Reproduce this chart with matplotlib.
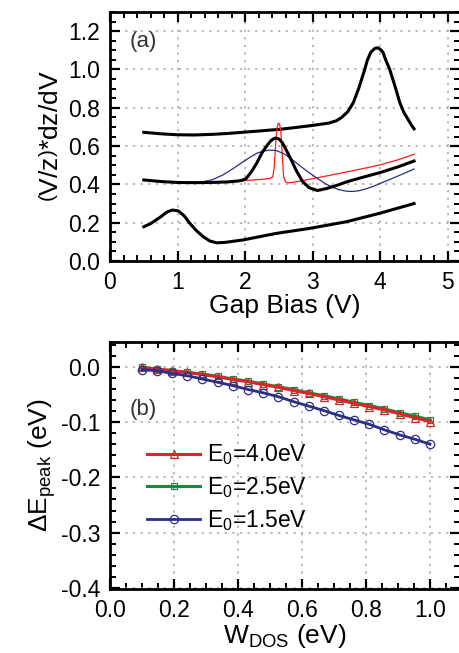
import matplotlib
matplotlib.use("Agg")
import matplotlib.pyplot as plt
from matplotlib.ticker import MultipleLocator

plt.rcParams['font.family'] = ['Liberation Sans', 'DejaVu Sans']
plt.rcParams['mathtext.fontset'] = 'custom'
plt.rcParams['mathtext.rm'] = 'Liberation Sans'
plt.rcParams['mathtext.it'] = 'Liberation Sans'
plt.rcParams['mathtext.bf'] = 'Liberation Sans'

# ---------------- panel (a) data ----------------
top_black_x = [0.5, 0.75, 1.0, 1.25, 1.5, 1.75, 2.0, 2.25, 2.5, 2.75, 3.0, 3.24, 3.35, 3.43, 3.52, 3.60,
               3.68, 3.77, 3.81, 3.86, 3.92, 3.96, 4.0, 4.04, 4.08, 4.14, 4.22, 4.29, 4.35, 4.41, 4.46, 4.5]
top_black_y = [0.672, 0.664, 0.659, 0.658, 0.661, 0.666, 0.673, 0.680, 0.687, 0.697, 0.708, 0.720, 0.732,
               0.750, 0.780, 0.826, 0.900, 1.000, 1.050, 1.090, 1.110, 1.113, 1.105, 1.090, 1.050, 1.000,
               0.910, 0.826, 0.775, 0.740, 0.710, 0.690]

mid_black_x = [0.5, 0.75, 1.0, 1.25, 1.5, 1.75, 1.9, 1.97, 2.02, 2.1, 2.17, 2.25, 2.31, 2.38, 2.43, 2.46,
               2.5, 2.55, 2.6, 2.68, 2.76, 2.85, 2.95, 3.07, 3.2, 3.35, 3.51, 3.75, 4.0, 4.25, 4.5]
mid_black_y = [0.423, 0.415, 0.410, 0.409, 0.410, 0.413, 0.418, 0.423, 0.432, 0.47, 0.51, 0.565, 0.596,
               0.628, 0.640, 0.642, 0.637, 0.618, 0.585, 0.530, 0.470, 0.415, 0.382, 0.368, 0.378, 0.394,
               0.414, 0.438, 0.462, 0.490, 0.522]

red_x = [0.5, 0.75, 1.0, 1.25, 1.5, 1.75, 2.0, 2.2, 2.36, 2.41, 2.43, 2.45, 2.47, 2.49, 2.51, 2.53, 2.55,
         2.57, 2.6, 2.65, 2.8, 3.0, 3.25, 3.5, 3.75, 4.0, 4.25, 4.5]
red_y = [0.423, 0.415, 0.410, 0.409, 0.410, 0.414, 0.420, 0.425, 0.430, 0.44, 0.49, 0.60, 0.69, 0.72, 0.715,
         0.67, 0.55, 0.44, 0.412, 0.408, 0.416, 0.430, 0.447, 0.465, 0.483, 0.502, 0.527, 0.557]

blue_x = [0.5, 0.75, 1.0, 1.2, 1.38, 1.52, 1.67, 1.82, 1.97, 2.07, 2.17, 2.27, 2.36, 2.46, 2.58, 2.7,
          2.83, 2.92, 3.0, 3.1, 3.19, 3.3, 3.4, 3.51, 3.6, 3.7, 3.8, 3.9, 4.0, 4.25, 4.5]
blue_y = [0.423, 0.415, 0.410, 0.410, 0.414, 0.425, 0.449, 0.482, 0.518, 0.541, 0.562, 0.574, 0.579, 0.577,
          0.559, 0.528, 0.492, 0.468, 0.448, 0.424, 0.403, 0.384, 0.371, 0.364, 0.363, 0.368, 0.378, 0.390,
          0.405, 0.442, 0.480]

bot_black_x = [0.5, 0.6, 0.74, 0.84, 0.92, 1.01, 1.1, 1.18, 1.28, 1.38, 1.48, 1.58, 1.7, 1.97, 2.46, 2.95,
               3.5, 4.0, 4.5]
bot_black_y = [0.179, 0.195, 0.228, 0.255, 0.266, 0.262, 0.235, 0.197, 0.158, 0.127, 0.104, 0.095, 0.097,
               0.110, 0.144, 0.170, 0.205, 0.250, 0.300]

# ---------------- panel (b) data ----------------
w_dos = [0.100, 0.147, 0.195, 0.242, 0.289, 0.337, 0.384, 0.432, 0.479, 0.526,
         0.574, 0.621, 0.668, 0.716, 0.763, 0.811, 0.858, 0.905, 0.953, 1.000]
de_40 = [-0.001, -0.004, -0.007, -0.010, -0.014, -0.018, -0.023, -0.027, -0.032, -0.037,
         -0.043, -0.048, -0.054, -0.060, -0.066, -0.072, -0.078, -0.085, -0.092, -0.099]
de_25 = [-0.001, -0.004, -0.007, -0.010, -0.013, -0.017, -0.022, -0.026, -0.031, -0.036,
         -0.041, -0.047, -0.052, -0.058, -0.064, -0.070, -0.076, -0.083, -0.089, -0.096]
de_15 = [-0.005, -0.007, -0.012, -0.016, -0.022, -0.028, -0.034, -0.041, -0.047, -0.054,
         -0.063, -0.071, -0.079, -0.088, -0.096, -0.104, -0.114, -0.123, -0.131, -0.140]
legend_labels = [r'E$_{0}$=4.0eV', r'E$_{0}$=2.5eV', r'E$_{0}$=1.5eV']

W, H = 459, 653
fig = plt.figure(figsize=(W / 100, H / 100), dpi=100)
ax1 = fig.add_axes([110 / W, 1 - 261 / H, 350 / W, 249 / H])
ax2 = fig.add_axes([110 / W, 1 - 589 / H, 350 / W, 247 / H])

def style(ax):
    for s in ax.spines.values():
        s.set_linewidth(2.0)
    ax.tick_params(which='both', direction='in', top=True, right=True, labelsize=16.5, pad=7)
    ax.tick_params(which='major', length=7, width=1.6)
    ax.tick_params(which='minor', length=4, width=1.4)
    ax.grid(True, which='major', linestyle=(0, (1.5, 3.5)), color='#a8a8a8', linewidth=1.1)
    ax.set_axisbelow(True)

# panel (a)
ax1.plot(top_black_x, top_black_y, color='black', lw=2.2)
ax1.plot(mid_black_x, mid_black_y, color='black', lw=2.2, zorder=3)
ax1.plot(red_x, red_y, color='#ff1a1a', lw=0.9, zorder=2)
ax1.plot(blue_x, blue_y, color='#2b2b8c', lw=0.9, zorder=2)
ax1.plot(bot_black_x, bot_black_y, color='black', lw=2.2)
ax1.set_xlim(0, 5.18)
ax1.set_ylim(0, 1.30)
ax1.xaxis.set_minor_locator(MultipleLocator(0.2))
ax1.yaxis.set_minor_locator(MultipleLocator(0.05))
ax1.set_xticks([0, 1, 2, 3, 4, 5])
ax1.set_xticklabels(['0', '1', '2', '3', '4', '5'])
ax1.set_yticks([0.0, 0.2, 0.4, 0.6, 0.8, 1.0, 1.2])
ax1.set_yticklabels(['0.0', '0.2', '0.4', '0.6', '0.8', '1.0', '1.2'])
style(ax1)
ax1.set_xlabel('Gap Bias (V)', fontsize=19, labelpad=0)
ax1.set_ylabel(r'$\left(\mathrm{V/z}\right)$*dz/dV', fontsize=19, labelpad=4)
ax1.text(0.055, 0.925, '(a)', transform=ax1.transAxes, fontsize=16, color='#333333', va='top', ha='left')

# panel (b)
ax2.plot(w_dos, de_25, color='#1a8a3c', lw=2.2, marker='s', ms=5, mfc='none', mec='#1a8a3c', mew=0.9,
         label=legend_labels[1])
ax2.plot(w_dos, de_40, color='#d9262b', lw=2.2, marker='^', ms=6, mfc='none', mec='#d9262b', mew=0.9,
         label=legend_labels[0])
ax2.plot(w_dos, de_15, color='#2b2f86', lw=2.0, marker='o', ms=6, mfc='none', mec='#2b2f86', mew=0.9,
         label=legend_labels[2])
ax2.set_xlim(0, 1.094)
ax2.set_ylim(-0.402, 0.045)
ax2.set_xticks([0.0, 0.2, 0.4, 0.6, 0.8, 1.0])
ax2.set_xticklabels(['0.0', '0.2', '0.4', '0.6', '0.8', '1.0'])
ax2.set_yticks([-0.4, -0.3, -0.2, -0.1, 0.0])
ax2.set_yticklabels(['-0.4', '-0.3', '-0.2', '-0.1', '0.0'])
ax2.xaxis.set_minor_locator(MultipleLocator(0.05))
ax2.yaxis.set_minor_locator(MultipleLocator(0.02))
style(ax2)
ax2.set_xlabel(r'W$_{\mathrm{DOS}}$ (eV)', fontsize=19, labelpad=0)
ax2.set_ylabel(r'$\Delta$E$_{\mathrm{peak}}$ (eV)', fontsize=19, labelpad=2)
ax2.text(0.055, 0.77, '(b)', transform=ax2.transAxes, fontsize=16, color='#333333', va='top', ha='left')

h, l = ax2.get_legend_handles_labels()
order = [1, 0, 2]
ax2.legend([h[i] for i in order], [l[i] for i in order], loc='upper left',
           bbox_to_anchor=(0.08, 0.63), frameon=False, fontsize=16.5, handlelength=2.3,
           handletextpad=0.3, labelspacing=0.35, borderaxespad=0)

fig.savefig('out.png', dpi=100)
